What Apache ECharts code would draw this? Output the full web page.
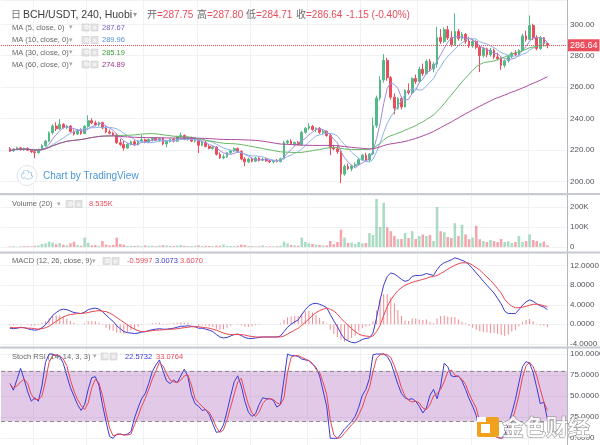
<!DOCTYPE html>
<html><head><meta charset="utf-8">
<script src="https://cdn.jsdelivr.net/npm/echarts@6.0.0/dist/echarts.min.js"></script>
<style>html,body{margin:0;padding:0;background:#fff}#c{width:600px;height:445px}</style>
</head><body><div id="c"></div><script>
// ---- data ----
const open = [
220.8,219.4,220.6,221.3,220.2,221.0,219.8,218.9,218.2,220.3,
222.8,225.6,230.9,235.2,233.4,236.2,234.3,235.2,231.8,230.1,
232.6,230.4,235.0,238.6,237.2,236.1,237.4,234.0,231.4,230.6,
229.4,224.6,223.4,221.2,223.6,225.2,223.2,225.6,226.4,225.0,
226.6,227.4,226.2,227.2,223.8,225.4,226.8,225.6,228.4,229.2,
226.8,227.8,225.6,226.2,223.0,224.8,222.2,221.0,221.8,217.2,
215.0,215.6,218.2,219.4,220.8,219.0,214.2,212.4,214.2,212.8,
214.8,213.4,214.2,213.0,212.4,213.2,212.6,214.4,224.6,225.6,
223.8,224.8,223.4,231.2,233.8,235.0,233.0,233.8,231.2,231.8,
229.2,221.4,220.6,219.0,204.6,209.4,208.0,209.8,210.6,213.8,
216.6,213.6,217.4,235.5,253.0,264.6,277.0,266.0,253.6,246.6,
252.8,247.4,257.8,256.4,265.4,263.6,271.4,268.6,276.4,271.6,
274.6,291.6,289.0,296.6,291.4,287.0,295.4,291.0,293.6,289.2,
286.4,289.0,285.4,280.0,284.4,280.6,283.6,279.2,278.2,273.8,
276.8,279.4,281.6,280.8,283.4,292.6,290.4,299.2,291.2,284.6,
291.4,287.75];
const close = [
219.4,220.6,221.3,220.2,221.0,219.8,218.9,218.2,220.3,222.8,
225.6,230.9,235.2,233.4,236.2,234.3,235.2,231.8,230.1,232.6,
230.4,235.0,238.6,237.2,236.1,237.4,234.0,231.4,230.6,229.4,
224.6,223.4,221.2,223.6,225.2,223.2,225.6,226.4,225.0,226.6,
227.4,226.2,227.2,223.8,225.4,226.8,225.6,228.4,229.2,226.8,
227.8,225.6,226.2,223.0,224.8,222.2,221.0,221.8,217.2,215.0,
215.6,218.2,219.4,220.8,219.0,214.2,212.4,214.2,212.8,214.8,
213.4,214.2,213.0,212.4,213.2,212.6,214.4,224.6,225.6,223.8,
224.8,223.4,231.2,233.8,235.0,233.0,233.8,231.2,231.8,229.2,
221.4,220.6,219.0,204.6,209.4,208.0,209.8,210.6,213.8,216.6,
213.6,217.4,235.5,253.0,264.6,277.0,266.0,253.6,246.6,252.8,
247.4,257.8,256.4,265.4,263.6,271.4,268.6,276.4,271.6,274.6,
291.6,289.0,296.6,291.4,287.0,295.4,291.0,293.6,289.2,286.4,
289.0,285.4,280.0,284.4,280.6,283.6,279.2,278.2,273.8,276.8,
279.4,281.6,280.8,283.4,292.6,290.4,299.2,291.2,284.6,291.4,
287.75,286.64];
const high = [
221.8,221.0,222.0,221.9,221.4,221.6,220.6,220.4,220.8,223.6,
226.2,231.8,236.4,237.6,239.6,237.0,236.0,235.8,233.0,233.4,
233.8,235.8,242.0,240.2,238.6,238.0,238.0,235.2,233.0,231.6,
230.4,227.0,225.8,224.2,226.0,226.4,226.2,229.4,227.2,227.4,
228.2,228.0,227.8,228.2,226.0,227.2,227.6,229.0,231.0,229.8,
228.6,228.4,227.0,226.8,226.0,225.6,223.4,222.6,222.4,218.4,
217.2,218.8,220.0,221.6,221.6,219.8,215.4,215.0,215.2,215.6,
215.4,215.0,214.8,213.8,213.6,214.2,215.0,225.8,226.4,226.8,
225.2,225.6,232.0,234.6,237.0,235.8,234.4,234.6,232.8,232.4,
230.2,223.2,222.6,219.6,210.8,211.4,210.6,212.0,214.6,217.4,
218.2,218.0,240.6,254.6,267.0,281.0,278.6,267.0,256.0,253.6,
254.0,258.6,262.4,266.2,268.0,273.0,275.0,277.6,278.0,276.0,
298.4,297.0,298.0,299.0,295.6,307.0,297.0,295.0,294.4,292.0,
290.6,289.8,286.6,285.6,285.2,285.0,284.6,282.0,279.0,277.6,
280.2,282.4,283.6,284.2,294.0,296.0,305.6,300.4,293.0,292.6,
291.8,287.80];
const low = [
218.6,218.8,219.8,219.6,219.4,219.2,218.0,214.8,217.6,219.8,
222.0,225.0,229.8,232.0,232.8,233.6,233.2,231.0,229.2,229.4,
229.6,230.0,234.2,236.4,235.0,234.8,233.2,230.6,229.8,228.8,
223.8,222.6,219.6,220.6,222.8,222.4,222.8,224.8,224.2,224.4,
225.4,225.6,225.2,223.0,221.6,224.6,224.8,225.0,227.4,226.2,
225.8,225.0,224.6,218.0,222.4,221.6,220.4,220.2,216.4,214.2,
214.0,215.0,217.4,218.6,218.4,213.4,209.6,211.6,212.0,212.2,
212.6,212.8,212.4,211.6,211.4,212.0,212.0,214.0,223.4,223.2,
222.6,222.8,223.0,230.4,232.6,232.2,231.4,230.2,229.6,228.4,
216.6,219.8,217.4,198.8,203.6,207.2,206.4,208.6,210.0,213.0,
212.8,212.4,216.8,234.0,251.4,262.8,264.0,252.0,242.6,245.6,
245.8,247.0,255.2,255.6,262.0,263.0,267.0,268.0,270.0,269.4,
272.4,287.4,288.0,290.0,285.6,286.4,289.6,289.4,287.6,285.0,
285.0,284.2,269.6,278.8,279.0,279.4,278.0,277.0,271.0,272.4,
275.6,278.4,279.8,280.0,282.8,289.0,289.8,290.0,283.4,283.8,
286.0,284.71];
const volumeK = [
3,4,2,3,5,4,3,6,8,15,
18,27,22,14,20,12,8,18,26,10,
6,47,20,8,10,6,30,12,8,10,
47,15,12,5,6,5,7,4,8,5,
6,4,7,9,8,6,5,7,10,6,
5,4,6,8,5,6,5,4,7,6,
12,6,5,4,6,12,10,5,4,3,
4,8,3,4,3,4,6,27,18,10,
8,6,47,25,18,15,12,10,8,8,
30,14,25,87,47,20,22,15,25,18,
20,70,60,240,100,221,98,79,55,39,
40,70,45,79,40,55,63,55,60,30,
200,79,74,50,45,119,55,111,63,39,
47,106,39,30,25,35,30,25,40,25,
28,20,25,55,25,30,63,35,30,20,
27,8.535];
const macdLine = [
-0.8,-0.9,-0.8,-0.6,-0.7,-0.9,-1.1,-1.2,-1.1,-0.7,
-0.1,0.8,1.8,2.4,2.9,3.1,3.0,2.7,2.4,2.3,
2.2,2.5,3.0,3.2,3.3,3.1,2.6,1.9,1.2,0.6,
-0.3,-0.9,-1.5,-1.7,-1.8,-1.9,-1.8,-1.6,-1.5,-1.3,
-1.1,-1.0,-0.9,-1.0,-1.0,-0.9,-0.8,-0.6,-0.4,-0.4,
-0.3,-0.4,-0.5,-0.8,-0.8,-1.0,-1.2,-1.5,-2.1,-2.6,
-2.8,-2.7,-2.4,-2.1,-2.0,-2.3,-2.7,-2.9,-2.9,-2.8,
-2.7,-2.6,-2.6,-2.6,-2.6,-2.6,-2.4,-1.5,-0.6,0.0,
0.5,0.9,2.0,3.0,3.8,4.2,4.3,4.1,3.8,3.4,
2.0,0.7,-0.5,-1.9,-3.0,-3.4,-3.7,-3.8,-3.5,-3.1,
-2.9,-2.8,-1.8,1.3,5.0,8.0,9.8,10.5,10.3,9.8,
9.2,8.8,9.0,9.8,10.0,10.0,10.1,10.4,10.2,10.0,
11.2,12.1,12.6,12.9,13.2,13.6,13.4,13.1,12.8,12.2,
11.4,10.5,9.7,8.8,8.0,7.2,6.4,5.3,4.2,2.7,
2.2,2.2,2.2,3.0,3.9,4.6,5.0,4.7,4.2,3.8,
3.5,3.0073];
const signalLine = [
-0.6,-0.7,-0.7,-0.7,-0.7,-0.8,-0.8,-0.9,-1.0,-0.9,
-0.7,-0.4,0.1,0.6,1.1,1.5,1.8,2.0,2.1,2.2,
2.2,2.3,2.4,2.6,2.7,2.8,2.7,2.6,2.3,1.9,
1.4,0.9,0.4,-0.1,-0.6,-1.0,-1.3,-1.5,-1.5,-1.4,
-1.3,-1.2,-1.2,-1.1,-1.1,-1.0,-1.0,-0.9,-0.8,-0.7,
-0.6,-0.5,-0.5,-0.5,-0.6,-0.7,-0.8,-1.0,-1.2,-1.5,
-1.8,-2.0,-2.1,-2.1,-2.1,-2.1,-2.2,-2.4,-2.5,-2.6,
-2.6,-2.6,-2.6,-2.6,-2.6,-2.6,-2.6,-2.4,-2.0,-1.6,
-1.2,-0.8,-0.2,0.4,1.1,1.8,2.4,2.8,3.1,3.3,
3.1,2.7,2.1,1.2,0.5,-0.2,-0.9,-1.5,-2.0,-2.3,
-2.4,-2.5,-2.4,-1.5,-0.2,1.8,3.6,5.0,6.0,6.9,
7.5,8.0,8.3,8.6,8.8,9.0,9.2,9.4,9.7,9.8,
10.0,10.4,10.8,11.3,11.7,12.1,12.4,12.6,12.6,12.5,
12.1,11.6,11.1,10.4,9.7,9.0,8.2,7.3,6.4,5.1,
4.3,3.7,3.4,3.4,3.5,3.7,3.9,4.1,4.1,4.0,
3.8,3.6070];
const stochK = [
65,57,70,83,70,55,44,48,44,62,
90,100,100,98,97,89,74,60,50,40,
33,40,58,72,73,63,40,20,2,0,
5,5,4,5,8,24,36,47,53,65,
79,87,93,80,68,65,69,66,74,82,
73,52,41,38,33,34,28,17,7,8,
16,32,50,67,74,62,44,31,26,29,
40,48,47,47,45,37,40,70,100,98,
98,97,94,93,92,88,84,74,56,38,
0,0,0,5,11,15,20,26,37,51,
58,71,99,100,100,100,97,90,77,64,
53,48,46,47,44,38,30,36,51,58,
47,62,89,85,74,73,74,68,58,47,
38,27,9,7,6,5,3,1,0,4,
16,30,46,66,85,91,89,78,60,41,
43,22.5732];
const stochD = [
64,60,62,67,70,65,52,46,46,50,
68,90,98,99,98,94,86,69,56,46,
39,34,42,60,70,66,51,31,12,3,
4,5,4,4,5,16,26,38,47,58,
70,80,90,86,77,69,67,66,69,74,
75,63,47,42,38,34,31,23,13,7,
10,22,37,52,67,71,55,40,30,26,
31,41,46,47,46,42,40,48,78,96,
98,98,96,94,92,89,82,78,66,52,
22,4,0,1,6,11,16,20,28,37,
50,60,79,95,99,100,99,96,86,74,
60,50,45,43,44,42,36,34,40,50,
53,58,67,79,81,75,73,70,64,53,
44,36,19,10,6,5,3,1,0,1,
8,20,34,51,72,86,90,85,74,58,
43,33.0764];
const maPeriods = [5, 10, 30, 60];
const maLegendValues = ['287.67', '289.96', '285.19', '274.89'];
const priceTicks = [200, 220, 240, 260, 280, 300];
const volumeTicks = [0, 100, 200];
const macdTicks = [-4, 0, 4, 8, 12];
const stochTicks = [0, 25, 50, 75, 100];

// ---- styles ----
const FONT = "'Liberation Sans','Noto Sans CJK SC',Arial,sans-serif";
const UP = '#53b987', DOWN = '#eb4d5c';
const maColors = ['#a08be0', '#8cb4e6', '#66b866', '#ad4a9e'];
const maTextColors = ['#7d5ec4', '#5b8fd6', '#3c9a3c', '#9c2f88'];
const BLUE = '#3b3bd6', RED = '#ec4650';
const FAINT = '#eff1f4';

const chart = echarts.init(document.getElementById('c'), null, {renderer: 'canvas', width: 600, height: 445});
const LEAD = 2, TRAIL = 5, N = close.length, TOTAL = LEAD + N + TRAIL;
const cats = Array.from({length: TOTAL}, (_, i) => String(i));
const pad = a => Array(LEAD).fill('-').concat(a, Array(TRAIL).fill('-'));
const sma = p => close.map((_, i) => {
  const s = Math.max(0, i - p + 1); let t = 0;
  for (let j = s; j <= i; j++) t += close[j];
  return +(t / (i - s + 1)).toFixed(3);
});
const candles = pad(open.map((o, i) => [o, close[i], low[i], high[i]]));
const volData = pad(volumeK.map((v, i) => ({value: v, itemStyle: {color: close[i] >= open[i] ? 'rgba(83,185,135,0.5)' : 'rgba(235,77,92,0.5)'}})));
const hist = pad(macdLine.map((m, i) => +(m - signalLine[i]).toFixed(4)));
const gridCols = [9, 24, 40, 55, 70, 86, 101, 117, 132, 148];

function xAx(gi) {
  return {type: 'category', gridIndex: gi, data: cats, boundaryGap: true,
    axisLine: {show: false}, axisTick: {show: false}, axisLabel: {show: false},
    splitLine: {show: true, interval: (idx) => gridCols.includes(idx), lineStyle: {color: FAINT, width: 1}}};
}
function yAx(gi, min, max, interval, ticks, fmt) {
  return {type: 'value', gridIndex: gi, position: 'right', min, max, interval,
    axisLine: {show: true, lineStyle: {color: '#b4b7be'}},
    axisTick: {show: false},
    axisLabel: {show: true, margin: 3, fontSize: 8, color: '#50535a', fontFamily: FONT,
      formatter: v => ticks.some(t => Math.abs(t - v) < 1e-6) ? fmt(v) : ''},
    splitLine: {show: true, lineStyle: {color: ['rgba(0,0,0,0)', FAINT, FAINT, FAINT, FAINT, FAINT, FAINT, FAINT, FAINT]}}};
}

const gridBase = {left: 1, right: 33, outerBoundsMode: 'none', containLabel: false};
const lineS = (gi, data, color, extra) => Object.assign({type: 'line', xAxisIndex: gi, yAxisIndex: gi, data, showSymbol: false, symbol: 'none', silent: true,
  lineStyle: {color, width: 1}, itemStyle: {color}}, extra || {});

// ---- header graphics ----
const g = [];
const txt = (x, y, text, size, color, extra) => g.push({type: 'text', x, y, z: 100, silent: true,
  style: Object.assign({text, fill: color, fontSize: size, fontFamily: FONT, verticalAlign: 'middle', align: 'left'}, extra || {})});
const boxes = (x, y) => {
  g.push({type: 'rect', z: 100, silent: true, shape: {x: x, y: y - 3.5, width: 7, height: 7}, style: {fill: '#e3e3e3', stroke: '#cfcfcf', lineWidth: 0.6}});
  g.push({type: 'rect', z: 100, silent: true, shape: {x: x + 9, y: y - 3.5, width: 7, height: 7}, style: {fill: '#e3e3e3', stroke: '#cfcfcf', lineWidth: 0.6}});
  txt(x + 10.3, y + 0.3, '×', 8, '#ffffff');
  txt(x + 1.5, y + 0.3, '⚙', 6, '#ffffff');
};
// pane separators
[193, 251.5, 346.5].forEach(y => g.push({type: 'rect', z: 90, silent: true, shape: {x: 0, y, width: 600, height: 2}, style: {fill: '#c7cad0'}}));
// title row
txt(11, 15, '日', 10, '#777');
txt(23, 15, 'BCH/USDT, 240, Huobi', 10.5, '#3c3c3c');
txt(133, 15, '▾', 8, '#9a9a9a');
[['开', '=287.75', 147], ['高', '=287.80', 197], ['低', '=284.71', 246], ['收', '=286.64', 296]].forEach(([k, v, x]) => {
  txt(x, 15, k, 10, '#6a6a6a'); txt(x + 10, 15, v, 10, DOWN);
});
txt(346, 15, '-1.15 (-0.40%)', 10, DOWN);
// MA legends
[27.5, 40, 52.5, 64.5].forEach((y, k) => {
  txt(12, y, 'MA (' + maPeriods[k] + ', close, 0)', 7.5, '#666');
  txt(69, y, '▾', 7, '#aaa');
  boxes(82, y);
  txt(102, y, maLegendValues[k], 7.5, maTextColors[k]);
});
// volume legend
txt(12, 204, 'Volume (20)', 7.5, '#666'); txt(57, 204, '▾', 7, '#aaa'); boxes(66, 204);
txt(89, 204, '8.535K', 7.5, DOWN);
// macd legend
txt(12, 261, 'MACD (12, 26, close, 9)', 7.5, '#666'); txt(92, 261, '▾', 7, '#aaa'); boxes(103, 261);
txt(127, 261, '-0.5997', 7.5, DOWN); txt(155, 261, '3.0073', 7.5, BLUE); txt(180, 261, '3.6070', 7.5, DOWN);
// stoch legend
txt(12, 356.5, 'Stoch RSI (14, 14, 3, 3)', 7.5, '#666'); txt(93, 356.5, '▾', 7, '#aaa'); boxes(101, 356.5);
txt(125, 356.5, '22.5732', 7.5, BLUE); txt(156, 356.5, '33.0764', 7.5, DOWN);
// TradingView badge
g.push({type: 'circle', z: 100, silent: true, shape: {cx: 27, cy: 175.5, r: 10}, style: {fill: '#fff', stroke: '#e1e4ea', lineWidth: 1}});
txt(20.5, 175.5, '☁', 13, '#3f8fd6');
txt(43, 176, 'Chart by TradingView', 10, '#4a96d8');
// 金色财经 watermark
g.push({type: 'rect', z: 100, silent: true, shape: {x: 477, y: 417, width: 22, height: 20, r: 2}, style: {fill: '#f0a11e'}});
g.push({type: 'rect', z: 101, silent: true, shape: {x: 481, y: 424, width: 9, height: 9}, style: {fill: '#ffffff'}});
g.push({type: 'rect', z: 101, silent: true, shape: {x: 477, y: 417, width: 9, height: 5}, style: {fill: '#ffffff'}});
txt(502, 427, '金色财经', 22, 'rgba(255,255,255,0.85)', {stroke: '#8a8a8a', lineWidth: 1, fontFamily: "'Noto Sans CJK SC',sans-serif", fontWeight: 'bold'});

const option = {
  animation: false,
  backgroundColor: '#ffffff',
  grid: [
    Object.assign({top: 0, height: 212.7}, gridBase),
    Object.assign({top: 195, height: 72}, gridBase),
    Object.assign({top: 253, height: 110.36}, gridBase),
    Object.assign({top: 348, height: 111.36}, gridBase)
  ],
  xAxis: [xAx(0), xAx(1), xAx(2), xAx(3)],
  yAxis: [
    yAx(0, 180, 315.48, 20, priceTicks, v => v.toFixed(2)),
    yAx(1, -100, 260, 100, volumeTicks, v => v === 0 ? '0' : v + 'K'),
    yAx(2, -8, 14.6, 4, macdTicks, v => v.toFixed(4)),
    yAx(3, -25, 107.1, 25, stochTicks, v => v.toFixed(4))
  ],
  series: [
    {type: 'candlestick', xAxisIndex: 0, yAxisIndex: 0, data: candles, barWidth: '62%', silent: true,
      itemStyle: {color: UP, color0: DOWN, borderColor: UP, borderColor0: DOWN, borderWidth: 1},
      markLine: {silent: true, symbol: ['none', 'none'], animation: false, data: [{yAxis: close[N - 1]}],
        lineStyle: {color: DOWN, type: 'dotted', width: 1},
        label: {show: true, position: 'end', distance: 1, formatter: close[N - 1].toFixed(2), color: '#fff',
          backgroundColor: DOWN, padding: [2, 2, 1, 2], fontSize: 9, fontFamily: FONT}}},
    ...maPeriods.map((p, k) => lineS(0, pad(sma(p)), maColors[k])),
    {type: 'bar', xAxisIndex: 1, yAxisIndex: 1, data: volData, barWidth: '72%', silent: true},
    {type: 'bar', xAxisIndex: 2, yAxisIndex: 2, data: hist, barWidth: 1, silent: true, itemStyle: {color: '#f08a91'}},
    lineS(2, pad(macdLine), BLUE),
    lineS(2, pad(signalLine), RED),
    lineS(3, pad(stochK), BLUE, {
      markArea: {silent: true, itemStyle: {color: 'rgba(150,60,170,0.28)'}, data: [[{yAxis: 20}, {yAxis: 80}]]},
      markLine: {silent: true, symbol: ['none', 'none'], label: {show: false}, data: [{yAxis: 80}, {yAxis: 20}],
        lineStyle: {color: '#8c8c8c', type: [4, 3], width: 1}}
    }),
    lineS(3, pad(stochD), RED)
  ],
  graphic: g
};
chart.setOption(option);
</script></body></html>
